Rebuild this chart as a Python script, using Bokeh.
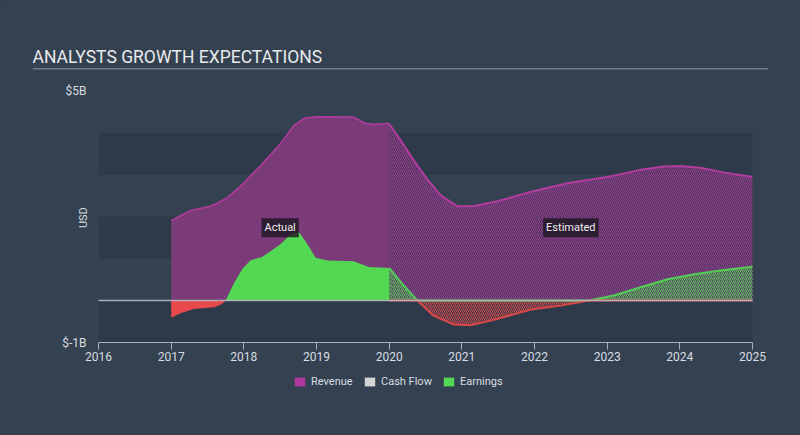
import numpy as np
from bokeh.plotting import figure
from bokeh.models import (FixedTicker, Legend, LegendItem, Label, Span)
from bokeh.core.properties import value
from bokeh.embed import file_html
from bokeh.resources import INLINE

# ---------------- data (values in $B) ----------------
rev_act_x = [2017.0, 2017.27, 2017.54, 2017.75, 2017.95, 2018.23, 2018.50, 2018.69, 2018.83,
             2019.0, 2019.51, 2019.67, 2019.79, 2020.0]
rev_act_y = [1.91, 2.15, 2.25, 2.43, 2.72, 3.22, 3.74, 4.18, 4.35, 4.39, 4.38, 4.23, 4.20, 4.23]

rev_est_x = [2020.0, 2020.16, 2020.34, 2020.53, 2020.71, 2020.94, 2021.17, 2021.49, 2021.94,
             2022.45, 2023.0, 2023.46, 2023.78, 2024.01, 2024.28, 2024.60, 2025.0]
rev_est_y = [4.22, 3.82, 3.34, 2.88, 2.51, 2.25, 2.26, 2.37, 2.59, 2.80, 2.95, 3.12, 3.20,
             3.21, 3.17, 3.06, 2.95]

earn_act_x = [2017.0, 2017.13, 2017.31, 2017.59, 2017.70, 2017.75, 2017.86, 2017.98, 2018.09,
              2018.25, 2018.50, 2018.64, 2018.76, 2018.87, 2018.99, 2019.15, 2019.51, 2019.72,
              2020.0]
earn_act_y = [-0.41, -0.30, -0.20, -0.16, -0.08, 0.0, 0.40, 0.76, 0.96, 1.04, 1.34, 1.58, 1.63,
              1.36, 1.02, 0.96, 0.94, 0.80, 0.78]

earn_est_x = [2020.0, 2020.20, 2020.39, 2020.61, 2020.89, 2021.12, 2021.44, 2021.94, 2022.36,
              2022.75, 2023.09, 2023.46, 2023.83, 2024.24, 2024.61, 2025.0]
earn_est_y = [0.78, 0.36, 0.0, -0.36, -0.57, -0.59, -0.46, -0.22, -0.12, 0.0, 0.12, 0.32, 0.51,
              0.64, 0.73, 0.81]

year_ticks = [2016, 2017, 2018, 2019, 2020, 2021, 2022, 2023, 2024, 2025]
y_tick_vals = [5, -1]
y_tick_labels = ["$5B", "$-1B"]
band_bottoms = [-1, 1, 3]
band_tops = [0, 2, 4]
legend_names = ["Revenue", "Cash Flow", "Earnings"]

# ---------------- style ----------------
BG = "#344150"
BAND = "#2e3a49"
REV_FILL = "#7b3a78"
REV_LINE = "#b23c9f"
REV_LEG = "#b0399f"
GREEN = "#52d853"
RED = "#e8494b"
TXT = "#d8dde2"
FONT = "Roboto"

X0, X1 = 2016, 2025
x_start, x_end = 2015.0917, 2025.2202
y_start, y_end = -2.384, 5.539

p = figure(width=800, height=435, output_backend="svg", toolbar_location=None,
           x_range=(x_start, x_end), y_range=(y_start, y_end), y_axis_type=None,
           min_border_left=32, min_border_right=32, min_border_top=68, min_border_bottom=35)
p.background_fill_color = BG
p.border_fill_color = BG
p.outline_line_color = None
p.grid.visible = False

# title
p.title.text = "ANALYSTS GROWTH EXPECTATIONS"
p.title.align = "left"
p.title.text_font = FONT
p.title.text_font_style = "normal"
p.title.text_font_size = "17.5px"
p.title.text_color = "#e8eaec"
p.title.standoff = 3
p.add_layout(Span(location=y_end - 0.005, dimension="width", line_color="#d0d4d8", line_width=1))

# background bands
p.quad(left=X0, right=X1, bottom=band_bottoms, top=band_tops, fill_color=BAND, line_color=None)

# actual revenue
p.varea(x=rev_act_x, y1=0, y2=rev_act_y, fill_color=REV_FILL)
p.line(rev_act_x, rev_act_y, line_color=REV_LINE, line_width=1.5)

# estimated revenue (hatched)
p.varea(x=rev_est_x, y1=0, y2=rev_est_y, fill_color="#6a3470", fill_alpha=0.5,
        hatch_pattern="/", hatch_color="#a83c9a", hatch_scale=4, hatch_weight=1, hatch_alpha=0.8)
p.line(rev_est_x, rev_est_y, line_color=REV_LINE, line_width=2)

# actual earnings
ea = np.array(earn_act_y)
p.varea(x=earn_act_x, y1=0, y2=np.maximum(ea, 0), fill_color=GREEN)
p.varea(x=earn_act_x, y1=0, y2=np.minimum(ea, 0), fill_color=RED)

# estimated earnings (hatched)
ee = np.array(earn_est_y)
p.varea(x=earn_est_x, y1=0, y2=np.maximum(ee, 0), fill_color=GREEN, fill_alpha=0.15,
        hatch_pattern="/", hatch_color=GREEN, hatch_scale=4, hatch_weight=1, hatch_alpha=0.8)
p.varea(x=earn_est_x, y1=0, y2=np.minimum(ee, 0), fill_color=RED, fill_alpha=0.15,
        hatch_pattern="/", hatch_color=RED, hatch_scale=4, hatch_weight=1, hatch_alpha=0.8)
p.line(earn_est_x, np.maximum(ee, 0), line_color=GREEN, line_width=2, line_alpha=0.9)
p.line(earn_est_x, np.minimum(ee, 0), line_color=RED, line_width=2, line_alpha=0.9)

# zero line
p.line([X0, X1], [0, 0], line_color="#b4b8bc", line_width=1.5, line_alpha=0.9)

# x axis, fixed at y = -1 inside the frame
ax = p.xaxis[0]
ax.fixed_location = y_tick_vals[1]
ax.ticker = FixedTicker(ticks=year_ticks)
ax.bounds = (X0, X1)
ax.axis_line_color = "#a9b2bb"
ax.major_tick_line_color = "#a9b2bb"
ax.major_tick_in = 0
ax.major_tick_out = 7
ax.minor_tick_line_color = None
ax.major_label_text_font = FONT
ax.major_label_text_font_size = "12px"
ax.major_label_text_color = TXT
ax.major_label_standoff = 2

# y tick labels
p.text(x=[X0] * len(y_tick_vals), y=y_tick_vals, text=y_tick_labels, x_offset=-12,
       text_align="right", text_baseline="middle", text_font=value(FONT),
       text_font_size="12px", text_color=TXT)
p.text(x=[X0], y=[(y_tick_vals[0] + y_tick_vals[1]) / 2 - 0.02], text=["USD"], x_offset=-15,
       angle=np.pi / 2, text_align="center", text_baseline="middle", text_font=value(FONT),
       text_font_size="11px", text_color=TXT)

# period labels
for lx, txt in [((2017 + 2020) / 2, "Actual"), ((2020 + 2025) / 2, "Estimated")]:
    p.add_layout(Label(x=lx, y=1.74, text=txt, text_align="center", text_baseline="middle",
                       text_font=FONT, text_font_size="11px", text_color="#f0f0f0",
                       background_fill_color="#1c1622", background_fill_alpha=0.8,
                       padding=3))

# legend swatches: hidden copies of the series areas (Cash Flow has no data: flat zero area)
leg_src = [(rev_act_x, rev_act_y), ([X0, X1], [0, 0]), (earn_act_x, list(np.maximum(ea, 0)))]
leg_colors = [REV_LEG, "#d4d4d4", GREEN]
leg_dim = [0.0, 0.45, 0.0]
leg_x = [261, 331, 410]
for name, (sx, sy), col, dim, lx in zip(legend_names, leg_src, leg_colors, leg_dim, leg_x):
    r = p.varea(x=sx, y1=0, y2=sy, fill_color=col, visible=False)
    lg = Legend(items=[LegendItem(label=name, renderers=[r])], location=(lx, 12),
                orientation="horizontal", padding=0, margin=0, border_line_color=None,
                background_fill_alpha=0, glyph_width=13, glyph_height=11, label_standoff=5,
                label_text_font=FONT, label_text_font_size="11px", label_text_color=TXT,
                label_height=11, inactive_fill_color=BG, inactive_fill_alpha=dim,
                click_policy="none")
    p.add_layout(lg, "center")

html = file_html(p, INLINE)
html = html.replace("<head>", "<head><style>html, body { background: #344150; }</style>", 1)
open("out.html", "w").write(html)
